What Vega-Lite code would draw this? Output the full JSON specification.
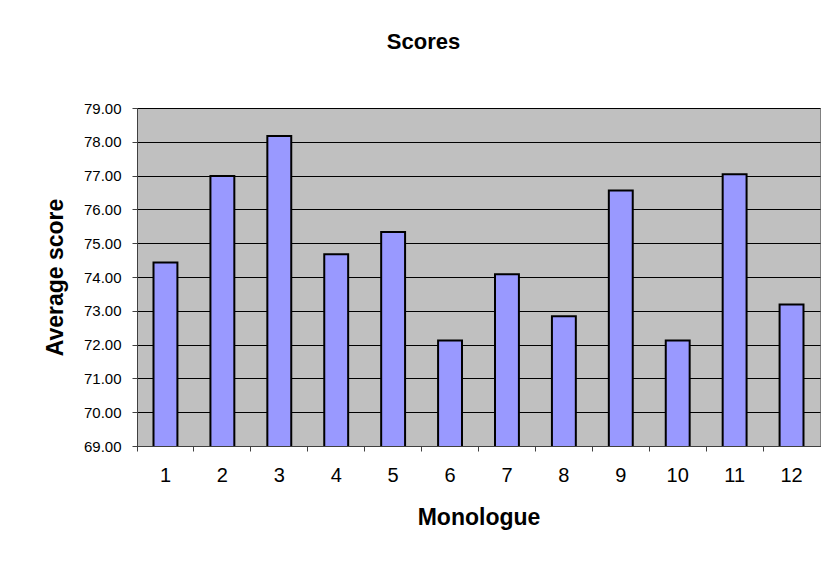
{
  "$schema": "https://vega.github.io/schema/vega-lite/v6.json",
  "width": 683,
  "height": 338,
  "autosize": {"type": "none"},
  "padding": {"left": 137, "top": 108, "right": 6, "bottom": 116},
  "background": "white",
  "config": {
    "font": "Liberation Sans",
    "view": {"fill": "#C0C0C0", "stroke": "#808080", "strokeWidth": 1}
  },
  "title": {
    "text": "Scores",
    "fontSize": 22,
    "fontWeight": "bold",
    "font": "Liberation Sans",
    "color": "black",
    "anchor": "middle",
    "dx": -55,
    "offset": 47
  },
  "data": {
    "values": [
      {"Monologue": "1", "score": 74.43},
      {"Monologue": "2", "score": 76.99},
      {"Monologue": "3", "score": 78.17},
      {"Monologue": "4", "score": 74.67},
      {"Monologue": "5", "score": 75.33},
      {"Monologue": "6", "score": 72.12},
      {"Monologue": "7", "score": 74.08},
      {"Monologue": "8", "score": 72.84},
      {"Monologue": "9", "score": 76.56},
      {"Monologue": "10", "score": 72.12},
      {"Monologue": "11", "score": 77.04},
      {"Monologue": "12", "score": 73.19}
    ]
  },
  "mark": {"type": "bar", "fill": "#9999FF", "stroke": "black", "strokeWidth": 2, "clip": true, "width": {"band": 0.42}},
  "encoding": {
    "x": {
      "field": "Monologue",
      "type": "ordinal",
      "sort": null,
      "scale": {"paddingInner": 0, "paddingOuter": 0},
      "axis": {
        "title": "Monologue",
        "titleFontSize": 23,
        "titleFontWeight": "bold",
        "titleColor": "black",
        "titlePadding": 21,
        "labelAngle": 0,
        "labelFontSize": 20,
        "labelColor": "black",
        "labelPadding": 14,
        "bandPosition": 0,
        "ticks": true,
        "tickSize": 5,
        "tickColor": "#404040",
        "domain": true,
        "domainColor": "#404040",
        "grid": false
      }
    },
    "y": {
      "field": "score",
      "type": "quantitative",
      "scale": {"domain": [69, 79], "zero": false, "nice": false},
      "axis": {
        "title": "Average score",
        "titleFontSize": 23,
        "titleFontWeight": "bold",
        "titleColor": "black",
        "titlePadding": 16,
        "format": ".2f",
        "values": [69, 70, 71, 72, 73, 74, 75, 76, 77, 78, 79],
        "labelOverlap": false,
        "labelFontSize": 15,
        "labelColor": "black",
        "labelPadding": 11,
        "tickSize": 5,
        "tickColor": "#404040",
        "domainColor": "#404040",
        "grid": true,
        "gridColor": "black",
        "gridWidth": 1,
        "gridOpacity": 1
      }
    }
  }
}
